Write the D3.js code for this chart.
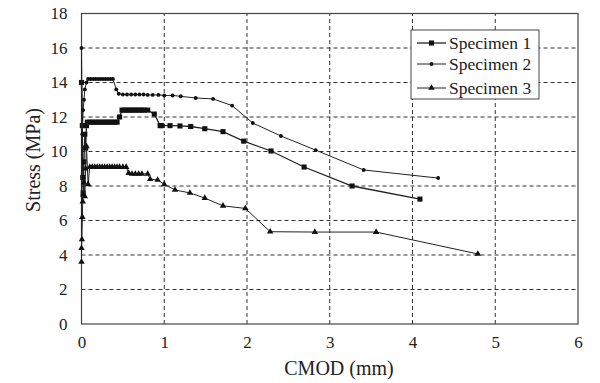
<!DOCTYPE html>
<html>
<head>
<meta charset="utf-8">
<script src="https://cdn.jsdelivr.net/npm/d3@7"></script>
<style>
  body { margin: 0; background: #fff; }
</style>
</head>
<body>
<div id="chart"></div>
<script>
var width = 600,
    height = 383,
    margin = {top: 13.5, right: 22, bottom: 59, left: 81.5};

var serif = "'Liberation Serif', 'Times New Roman', serif";

// data: [CMOD (mm), stress (MPa)]
var specimen1 = [
  [0, 14.0], [0.01, 11.5], [0.015, 8.5], [0.02, 7.6], [0.03, 9.4],
  [0.04, 11.0], [0.05, 10.2], [0.06, 11.5], [0.07, 11.7], [0.1, 11.7],
  [0.13, 11.7], [0.16, 11.7], [0.19, 11.7], [0.22, 11.7], [0.25, 11.7],
  [0.28, 11.7], [0.31, 11.7], [0.34, 11.7], [0.37, 11.7], [0.4, 11.7],
  [0.43, 11.7], [0.46, 12.0], [0.49, 12.4], [0.52, 12.4], [0.55, 12.4],
  [0.58, 12.4], [0.61, 12.4], [0.64, 12.4], [0.67, 12.4], [0.7, 12.4],
  [0.73, 12.4], [0.76, 12.4], [0.8, 12.4], [0.88, 12.17], [0.95, 11.5],
  [0.97, 11.5], [1.07, 11.5], [1.19, 11.48], [1.32, 11.45], [1.49, 11.32],
  [1.71, 11.15], [1.96, 10.6], [2.29, 10.03], [2.69, 9.1], [3.27, 8.0],
  [4.09, 7.24]
];

var specimen2 = [
  [0, 3.5], [0, 16.0], [0.01, 11.0], [0.02, 12.4], [0.03, 13.0], [0.04, 13.6],
  [0.06, 14.0], [0.08, 14.2], [0.11, 14.2], [0.14, 14.2], [0.17, 14.2],
  [0.2, 14.2], [0.23, 14.2], [0.26, 14.2], [0.29, 14.2], [0.32, 14.2],
  [0.35, 14.2], [0.38, 14.2], [0.42, 13.6], [0.45, 13.35], [0.5, 13.3],
  [0.55, 13.3], [0.6, 13.3], [0.65, 13.3], [0.7, 13.3], [0.75, 13.3],
  [0.8, 13.28], [0.86, 13.28], [0.93, 13.28], [1.0, 13.25], [1.1, 13.25],
  [1.2, 13.2], [1.38, 13.1], [1.59, 13.05], [1.82, 12.66], [2.07, 11.65],
  [2.41, 10.9], [2.83, 10.08], [3.41, 8.93], [4.31, 8.46]
];

var specimen3 = [
  [0, 3.6], [0, 4.4], [0.005, 4.9], [0.01, 6.2], [0.015, 7.1], [0.02, 7.5],
  [0.03, 8.2], [0.04, 7.4], [0.05, 9.0], [0.06, 10.3], [0.08, 8.1],
  [0.1, 9.1], [0.13, 9.1], [0.16, 9.1], [0.19, 9.1], [0.22, 9.1],
  [0.25, 9.1], [0.28, 9.1], [0.31, 9.1], [0.34, 9.1], [0.37, 9.1],
  [0.4, 9.1], [0.43, 9.1], [0.46, 9.1], [0.5, 9.1], [0.54, 9.1],
  [0.57, 8.75], [0.61, 8.7], [0.65, 8.7], [0.69, 8.7], [0.73, 8.7],
  [0.8, 8.7], [0.83, 8.4], [0.92, 8.35], [1.0, 8.1], [1.13, 7.77],
  [1.31, 7.6], [1.49, 7.3], [1.71, 6.85], [1.98, 6.7], [2.28, 5.35],
  [2.82, 5.33], [3.56, 5.33], [4.79, 4.06]
];

var seriesNames = ["Specimen 1", "Specimen 2", "Specimen 3"];
var xTicks = [0, 1, 2, 3, 4, 5, 6];
var yTicks = [0, 2, 4, 6, 8, 10, 12, 14, 16, 18];

var series = [
  {name: seriesNames[0], values: specimen1, symbol: d3.symbolSquare, size: 26, stroke: 1.3},
  {name: seriesNames[1], values: specimen2.slice(1), line: specimen2, symbol: d3.symbolCircle, size: 12, stroke: 1},
  {name: seriesNames[2], values: specimen3, symbol: d3.symbolTriangle, size: 18, stroke: 1}
];

var x = d3.scaleLinear().domain([0, 6]).range([margin.left, width - margin.right]);
var y = d3.scaleLinear().domain([0, 18]).range([height - margin.bottom, margin.top]);

var svg = d3.select("#chart")
    .append("svg")
    .attr("width", width)
    .attr("height", height)
    .style("font-family", serif);

// dashed grid
svg.append("g")
    .selectAll("line")
    .data(yTicks.filter(function (d) { return d > 0 && d < 18; }))
    .enter()
    .append("line")
    .attr("x1", x(0))
    .attr("x2", x(6))
    .attr("y1", function (d) { return y(d); })
    .attr("y2", function (d) { return y(d); })
    .attr("stroke", "#333")
    .attr("stroke-width", 1)
    .attr("stroke-dasharray", "4,3");

svg.append("g")
    .selectAll("line")
    .data(xTicks.filter(function (d) { return d > 0 && d < 6; }))
    .enter()
    .append("line")
    .attr("x1", function (d) { return x(d); })
    .attr("x2", function (d) { return x(d); })
    .attr("y1", y(0))
    .attr("y2", y(18))
    .attr("stroke", "#333")
    .attr("stroke-width", 1)
    .attr("stroke-dasharray", "4,3");

// frame
svg.append("rect")
    .attr("x", x(0))
    .attr("y", y(18))
    .attr("width", x(6) - x(0))
    .attr("height", y(0) - y(18))
    .attr("fill", "none")
    .attr("stroke", "#444")
    .attr("stroke-width", 1.2);

// axes (labels only)
var xAxis = svg.append("g")
    .attr("transform", "translate(0," + y(0) + ")")
    .call(d3.axisBottom(x).tickValues(xTicks).tickFormat(d3.format("d")).tickSize(0).tickPadding(12));

var yAxis = svg.append("g")
    .attr("transform", "translate(" + x(0) + ",0)")
    .call(d3.axisLeft(y).tickValues(yTicks).tickFormat(d3.format("d")).tickSize(0).tickPadding(14));

[xAxis, yAxis].forEach(function (g) {
    g.attr("font-family", null);
    g.select(".domain").remove();
    g.selectAll("text")
        .style("font-family", serif)
        .style("font-size", "17px")
        .attr("fill", "#222");
});

svg.append("text")
    .attr("x", 339)
    .attr("y", 375)
    .attr("text-anchor", "middle")
    .style("font-size", "20px")
    .attr("fill", "#222")
    .text("CMOD (mm)");

svg.append("text")
    .attr("transform", "translate(40,160) rotate(-90)")
    .attr("text-anchor", "middle")
    .style("font-size", "20px")
    .attr("fill", "#222")
    .text("Stress (MPa)");

// lines and markers
var line = d3.line()
    .x(function (d) { return x(d[0]); })
    .y(function (d) { return y(d[1]); });

series.forEach(function (s) {
    svg.append("path")
        .datum(s.line || s.values)
        .attr("d", line)
        .attr("fill", "none")
        .attr("stroke", "#222")
        .attr("stroke-width", s.stroke);

    svg.append("g")
        .selectAll("path")
        .data(s.values)
        .enter()
        .append("path")
        .attr("transform", function (d) { return "translate(" + x(d[0]) + "," + y(d[1]) + ")"; })
        .attr("d", d3.symbol().type(s.symbol).size(s.size))
        .attr("fill", "#111");
});

// legend
var legend = svg.append("g");

legend.append("rect")
    .attr("x", 411)
    .attr("y", 30)
    .attr("width", 128)
    .attr("height", 69)
    .attr("fill", "#fff")
    .attr("stroke", "#444")
    .attr("stroke-width", 1);

var entry = legend.selectAll(".entry")
    .data(series)
    .enter()
    .append("g")
    .attr("class", "entry")
    .attr("transform", function (d, i) { return "translate(0," + [43, 64, 88][i] + ")"; });

entry.append("line")
    .attr("x1", 417)
    .attr("x2", 446)
    .attr("stroke", "#222")
    .attr("stroke-width", function (d) { return d.stroke; });

entry.append("path")
    .attr("transform", "translate(431.5,0)")
    .attr("d", function (d) { return d3.symbol().type(d.symbol).size(d.size)(); })
    .attr("fill", "#111");

entry.append("text")
    .attr("x", 449)
    .attr("dy", "0.35em")
    .style("font-size", "17.5px")
    .attr("fill", "#222")
    .text(function (d) { return d.name; });
</script>
</body>
</html>
